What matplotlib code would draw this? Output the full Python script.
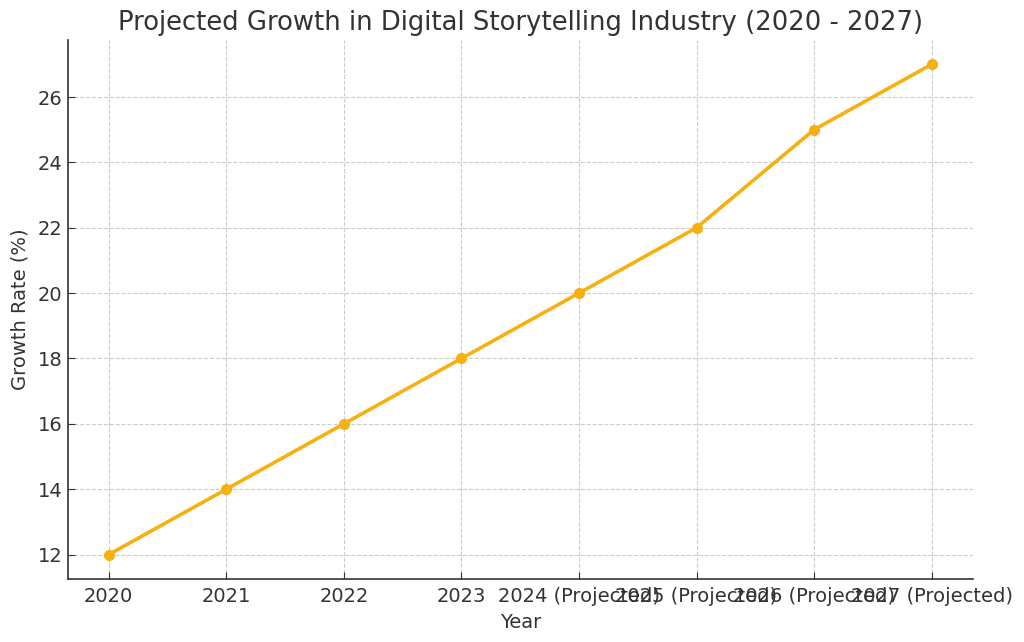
import matplotlib
matplotlib.use("Agg")
import matplotlib.pyplot as plt

years = ["2020", "2021", "2022", "2023", "2024 (Projected)", "2025 (Projected)",
         "2026 (Projected)", "2027 (Projected)"]
growth = [12, 14, 16, 18, 20, 22, 25, 27]

fig, ax = plt.subplots(figsize=(10.24, 6.42), dpi=100)
fig.subplots_adjust(left=0.066, right=0.95, top=0.938, bottom=0.098)

color = "#F7B012"
ax.plot(years, growth, marker="o", color=color, linewidth=2.6, markersize=7)

ax.set_title("Projected Growth in Digital Storytelling Industry (2020 - 2027)",
             fontsize=18.6, color="#333333", pad=7)
ax.set_xlabel("Year", fontsize=14, color="#333333", labelpad=5)
ax.set_ylabel("Growth Rate (%)", fontsize=14, color="#333333", labelpad=6)
ax.set_yticks([12, 14, 16, 18, 20, 22, 24, 26])
ax.tick_params(axis="both", labelsize=14, direction="in", colors="#333333", length=5)
ax.tick_params(axis="x", pad=6)
ax.grid(True, linestyle="--", color="#cccccc", linewidth=0.8)
ax.spines["top"].set_visible(False)
ax.spines["right"].set_visible(False)
for s in ("left", "bottom"):
    ax.spines[s].set_color("#333333")
    ax.spines[s].set_linewidth(1.2)

fig.savefig("out.png", dpi=100)
